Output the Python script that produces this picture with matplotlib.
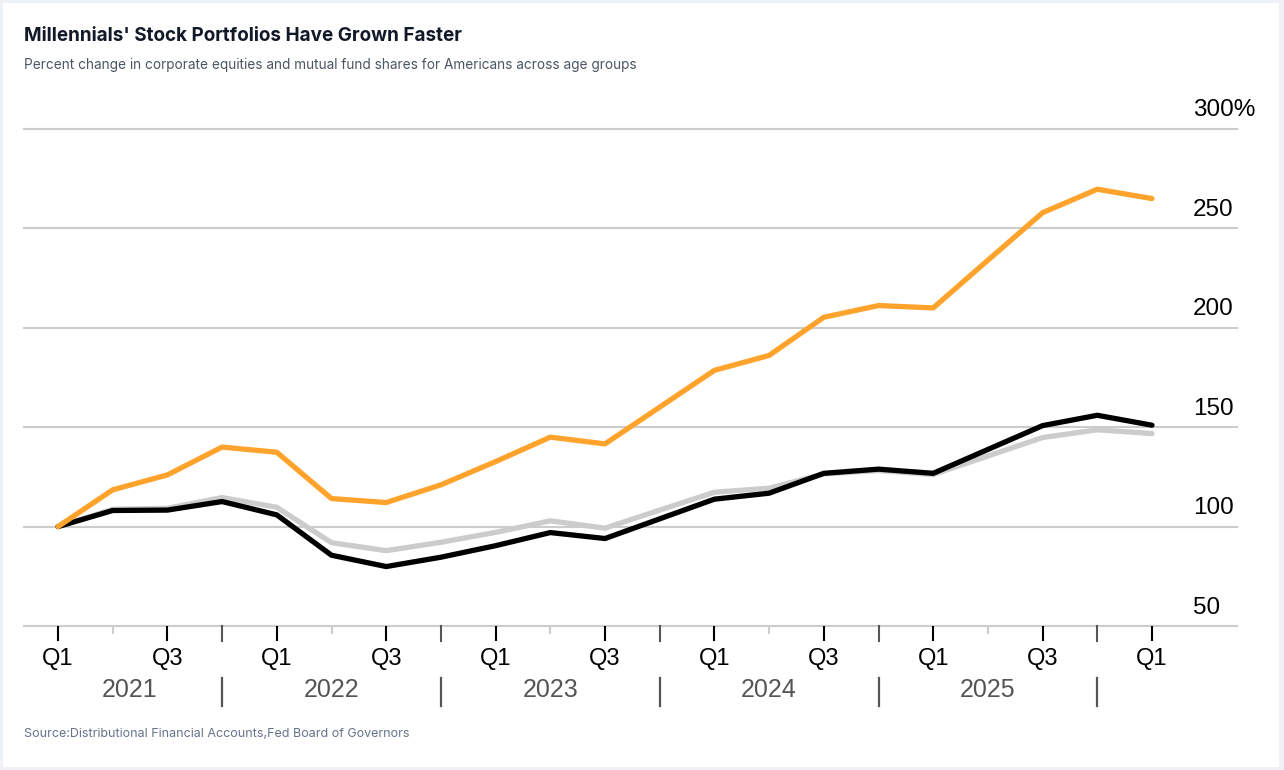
import matplotlib
matplotlib.use('Agg')
import matplotlib.pyplot as plt
import matplotlib.transforms as mtransforms
from matplotlib.patches import Rectangle
import numpy as np

# quarterly values, 2021 Q1 .. 2026 Q1 (index, 2021 Q1 = 100)
years = [2021, 2022, 2023, 2024, 2025]
quarters = [f'{y} Q{q}' for y in years for q in range(1, 5)] + ['2026 Q1']
millennials = [100, 118.5, 126.0, 140.0, 137.4, 114.1, 112.1, 121.0, 132.7, 145.0, 141.6,
               160.1, 178.6, 186.1, 205.3, 211.2, 210.0, 234.0, 257.9, 269.7, 265.0]
all_ages = [100, 108.1, 108.3, 112.6, 105.9, 85.6, 79.9, 84.6, 90.4, 97.0, 94.0,
            103.9, 113.8, 116.8, 126.8, 128.9, 126.8, 138.8, 150.8, 156.0, 151.0]
others = [100, 108.7, 109.2, 114.6, 109.7, 91.9, 87.9, 92.1, 97.1, 102.9, 99.2,
          108.3, 117.3, 119.3, 126.5, 128.2, 126.2, 135.5, 144.8, 148.7, 146.8]
y_ticks = [50, 100, 150, 200, 250, 300]
y_labels = ['50', '100', '150', '200', '250', '300%']

W, H = 1284, 770
fig = plt.figure(figsize=(W / 100, H / 100), dpi=100, facecolor='#eef1f5')
fig.patches.append(Rectangle((3 / W, 3 / H), (W - 8) / W, (H - 6) / H,
                             transform=fig.transFigure, facecolor='white',
                             edgecolor='none', zorder=-10))

ax = fig.add_axes([24 / W, 1 - 626 / H, (1237 - 24) / W, (626 - 129) / H])
ax.set_facecolor('none')
ax.set_zorder(2)

x = np.arange(len(quarters))
lw = 3.8
ax.plot(x, others, color='#cccccc', lw=lw, solid_capstyle='round', solid_joinstyle='round', zorder=3)
ax.plot(x, all_ages, color='#000000', lw=lw, solid_capstyle='round', solid_joinstyle='round', zorder=4)
ax.plot(x, millennials, color='#ffa32c', lw=lw, solid_capstyle='round', solid_joinstyle='round', zorder=5)

px = 54.7
ax.set_xlim(-(58 - 24) / px, (1237 - 58) / px)
ax.set_ylim(50, 300)

# grid
for v in y_ticks:
    ax.axhline(v, color='#cccccc', lw=1.5, zorder=1, clip_on=False)
for s in ax.spines.values():
    s.set_visible(False)

# y labels sitting above the grid lines
lab_tr = mtransforms.offset_copy(ax.get_yaxis_transform(), fig=fig, x=0, y=9, units='points')
for v, t in zip(y_ticks, y_labels):
    ax.text((1193 - 24) / (1237 - 24), v, t, transform=lab_tr, ha='left', va='baseline',
            fontsize=17.5, family='Liberation Sans', color='#000000')
ax.set_yticks([])

# x ticks: Q1/Q3 labelled (black), Q2 light grey, Q4 dark grey (drawn with separators)
major = [i for i, q in enumerate(quarters) if q.endswith('Q1') or q.endswith('Q3')]
q2 = [i for i, q in enumerate(quarters) if q.endswith('Q2')]
ax.set_xticks(major)
ax.set_xticklabels([quarters[i].split()[1] for i in major], fontsize=17,
                   family='Liberation Sans', color='#000000')
ax.set_xticks(q2, minor=True)
ax.tick_params(axis='x', which='major', length=11, width=1.5, pad=5, color='#000000')
ax.tick_params(axis='x', which='minor', length=6, width=1.5, color='#cccccc')

# year labels and separators
xtr = ax.get_xaxis_transform()
seps = [i for i, q in enumerate(quarters) if q.endswith('Q4')]
for s in seps:
    ax.plot([s, s], [0, -0.030], transform=xtr, color='#555555', lw=1.5, clip_on=False)
    ax.plot([s, s], [-0.105, -0.161], transform=xtr, color='#555555', lw=1.6, clip_on=False)
year_pos = [1.3, 5, 9, 13, 17]
for yx, yr in zip(year_pos, years):
    ax.text(yx, -0.129, str(yr), transform=xtr, ha='center', va='center', fontsize=18,
            family='Liberation Sans', color='#555555')

fig.text(24 / W, 1 - 36 / H, "Millennials' Stock Portfolios Have Grown Faster", fontsize=13.6,
         family='Inter', weight='bold', color='#111827', va='center', ha='left')
fig.text(24 / W, 1 - 65 / H, 'Percent change in corporate equities and mutual fund shares for Americans across age groups',
         fontsize=9.8, family='Inter', color='#4b5563', va='center', ha='left')
fig.text(24 / W, 1 - 734 / H, 'Source:Distributional Financial Accounts,Fed Board of Governors',
         fontsize=9, family='Inter', color='#64748b', va='center', ha='left')

fig.savefig('out.png', dpi=100, facecolor=fig.get_facecolor())
